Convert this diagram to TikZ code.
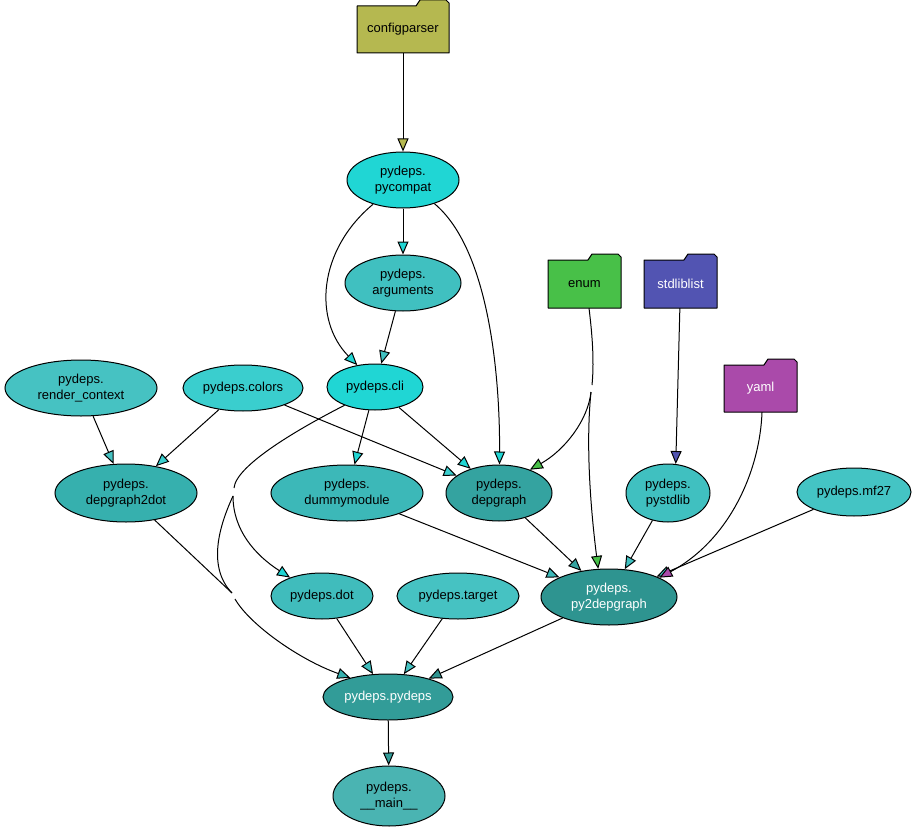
\documentclass[tikz,border=0pt]{standalone}
\usepackage{fontspec}
\setmainfont{Liberation Sans}
\usetikzlibrary{shapes.geometric,arrows.meta}
\definecolor{cConfig}{RGB}{181,184,80}
\definecolor{cEnum}{RGB}{72,192,72}
\definecolor{cStdlib}{RGB}{82,84,178}
\definecolor{cYaml}{RGB}{170,74,170}
\definecolor{cPycompat}{RGB}{32,214,212}
\definecolor{cCli}{RGB}{32,214,212}
\definecolor{cArguments}{RGB}{64,192,192}
\definecolor{cColors}{RGB}{58,206,206}
\definecolor{cRender}{RGB}{70,194,194}
\definecolor{cDtwodot}{RGB}{54,176,174}
\definecolor{cDummy}{RGB}{60,184,184}
\definecolor{cDepgraph}{RGB}{52,163,160}
\definecolor{cPystdlib}{RGB}{64,192,192}
\definecolor{cMf}{RGB}{68,196,196}
\definecolor{cDot}{RGB}{64,188,188}
\definecolor{cTarget}{RGB}{70,194,194}
\definecolor{cPytwo}{RGB}{46,148,144}
\definecolor{cPydeps}{RGB}{50,156,152}
\definecolor{cMain}{RGB}{74,180,178}
\tikzset{
  mod/.style={ellipse, draw=black, line width=1pt, inner sep=0pt, align=center, font=\fontsize{13}{16}\selectfont},
  fold/.style={rectangle, inner sep=0pt, align=center, font=\fontsize{13}{16}\selectfont},
  dep/.style={draw=black, line width=1pt, -{Triangle[length=13pt,width=11pt,fill=#1]}},
  plain/.style={draw=black, line width=1pt},
}
\newcommand\folderbox[8]{%
  \filldraw[fill=#6,draw=black,line width=1pt,line join=round,shift={(#2,#3)}]
    ({-#4},{#5}) -- ({-#4},{-#5}) -- ({#4-33},{-#5}) -- ({#4-29},{-#5-6}) -- ({#4-3},{-#5-6}) -- ({#4},{-#5-3}) -- ({#4},{#5}) -- cycle;
  \node[fold,text=#7,minimum width={2*#4}, minimum height={2*#5}] (#1) at (#2,#3) {#8};}
\begin{document}
\begin{tikzpicture}[x=1pt,y=-1pt]
\useasboundingbox (0,0) rectangle (916,832);
% folders
\folderbox{configparser}{403}{29.5}{46}{23.5}{cConfig}{black}{configparser}
\folderbox{enum}{584.5}{284}{36.5}{24}{cEnum}{black}{enum}
\folderbox{stdliblist}{680.5}{284}{36.5}{24}{cStdlib}{white}{stdliblist}
\folderbox{yaml}{760.5}{388.5}{36.5}{23.5}{cYaml}{white}{yaml}
% modules
\node[mod, fill=cPycompat, minimum width=112pt, minimum height=56pt] (pycompat) at (403,180) {pydeps.\\pycompat};
\node[mod, fill=cArguments, minimum width=116pt, minimum height=56pt] (arguments) at (403,283) {pydeps.\\arguments};
\node[mod, fill=cCli, minimum width=96pt, minimum height=46pt] (cli) at (375,387) {pydeps.cli};
\node[mod, fill=cColors, minimum width=120pt, minimum height=46pt] (colors) at (243,388) {pydeps.colors};
\node[mod, fill=cRender, minimum width=152pt, minimum height=56pt] (render) at (81,388) {pydeps.\\render\_context};
\node[mod, fill=cDtwodot, minimum width=142pt, minimum height=58pt] (dtwodot) at (126,493) {pydeps.\\depgraph2dot};
\node[mod, fill=cDummy, minimum width=152pt, minimum height=56pt] (dummy) at (347,493) {pydeps.\\dummymodule};
\node[mod, fill=cDepgraph, minimum width=106pt, minimum height=56pt] (depgraph) at (499,493) {pydeps.\\depgraph};
\node[mod, fill=cPystdlib, minimum width=84pt, minimum height=58pt] (pystdlib) at (668,493) {pydeps.\\pystdlib};
\node[mod, fill=cMf, minimum width=114pt, minimum height=48pt] (mf) at (854,492) {pydeps.mf27};
\node[mod, fill=cDot, minimum width=102pt, minimum height=46pt] (dot) at (322,596) {pydeps.dot};
\node[mod, fill=cTarget, minimum width=122pt, minimum height=46pt] (target) at (458,596) {pydeps.target};
\node[mod, fill=cPytwo, text=white, minimum width=136pt, minimum height=56pt] (pytwo) at (609,597) {pydeps.\\py2depgraph};
\node[mod, fill=cPydeps, text=white, minimum width=130pt, minimum height=46pt] (pydeps) at (388,697) {pydeps.pydeps};
\node[mod, fill=cMain, minimum width=112pt, minimum height=60pt] (main) at (389,796) {pydeps.\\\_\_main\_\_};
% junction coordinates
\coordinate (enumA) at (592,385);
\coordinate (enumB) at (591,392);
\coordinate (cliA) at (234,488);
\coordinate (cliB) at (233,496);
\coordinate (mergeA) at (232,593);
\coordinate (mergeB) at (235,599);
% edges
\draw[dep=cConfig] (configparser) -- (pycompat);
\draw[dep=cPycompat] (pycompat) -- (arguments);
\draw[dep=cPycompat] (pycompat.219) .. controls (318,250) and (313,320) .. (cli.129);
\draw[dep=cPycompat] (pycompat.-37) .. controls (490,250) and (500,380) .. (depgraph.89);
\draw[dep=cArguments] (arguments) -- (cli);
\draw[plain] ([xshift=4.5pt]enum.south) .. controls (593,340) and (594,365) .. (enumA);
\draw[dep=cEnum] (enumB) .. controls (588,420) and (565,450) .. (depgraph.37);
\draw[dep=cEnum] (enumB) .. controls (585,450) and (592,520) .. (pytwo.111);
\draw[dep=cStdlib] (stdliblist) -- (pystdlib.75);
\draw[dep=cRender] (render) -- (dtwodot);
\draw[dep=cColors] (colors) -- (dtwodot);
\draw[dep=cColors] (colors) -- (depgraph);
\draw[dep=cCli] (cli) -- (depgraph);
\draw[dep=cCli] (cli) -- (dummy);
\draw[plain] (cli.211) .. controls (300,428) and (236,465) .. (cliA);
\draw[dep=cCli] (cliB) .. controls (233,530) and (255,555) .. (dot.150);
\draw[plain] (cliB) .. controls (222,520) and (205,565) .. (mergeA);
\draw[plain] (dtwodot) -- (mergeA);
\draw[dep=cDtwodot] (mergeB) .. controls (250,625) and (300,660) .. (pydeps.153);
\draw[dep=cDummy] (dummy) -- (pytwo);
\draw[dep=cDepgraph] (depgraph) -- (pytwo);
\draw[dep=cPystdlib] (pystdlib) -- (pytwo);
\draw[dep=cMf] (mf) -- (pytwo);
\draw[dep=cYaml] ([xshift=1.5pt]yaml.south) .. controls (760,470) and (730,540) .. (pytwo.21);
\draw[dep=cDot] (dot) -- (pydeps);
\draw[dep=cTarget] (target) -- (pydeps);
\draw[dep=cPytwo] (pytwo) -- (pydeps);
\draw[dep=cPydeps] (pydeps) -- (main);
\end{tikzpicture}
\end{document}
